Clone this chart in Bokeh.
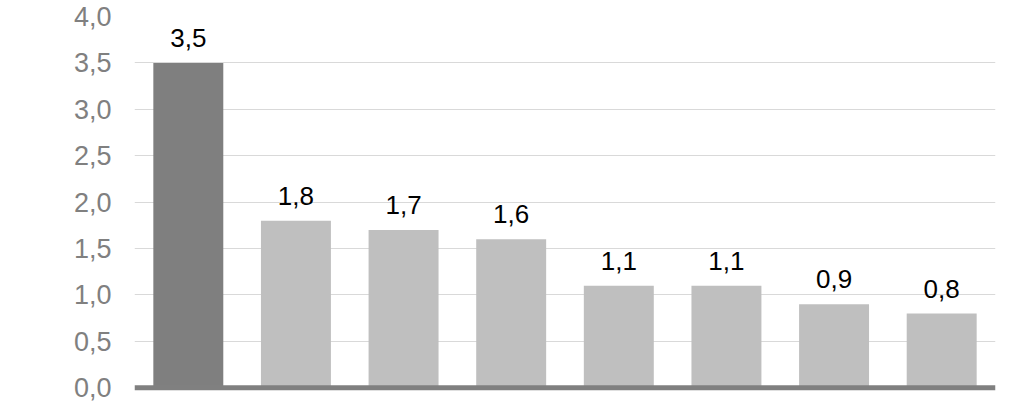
from bokeh.plotting import figure
from bokeh.models import ColumnDataSource, FixedTicker, Span, Range1d, FactorRange
from bokeh.core.properties import value
from bokeh.embed import file_html
from bokeh.resources import INLINE

categories = ["c1", "c2", "c3", "c4", "c5", "c6", "c7", "c8"]
values = [3.5, 1.8, 1.7, 1.6, 1.1, 1.1, 0.9, 0.8]
value_labels = ["3,5", "1,8", "1,7", "1,6", "1,1", "1,1", "0,9", "0,8"]
bar_colors = ["#7f7f7f"] + ["#bfbfbf"] * 7
y_ticks = [0.0, 0.5, 1.0, 1.5, 2.0, 2.5, 3.0, 3.5, 4.0]
y_tick_labels = ["0,0", "0,5", "1,0", "1,5", "2,0", "2,5", "3,0", "3,5", "4,0"]

src = ColumnDataSource(dict(cat=categories, val=values, lab=value_labels, col=bar_colors))

p = figure(width=1005, height=405, output_backend="svg", toolbar_location=None,
           x_range=FactorRange(factors=categories, range_padding=0),
           y_range=Range1d(-0.04, 4.0),
           min_border_left=134, min_border_right=10, min_border_top=16, min_border_bottom=14)
p.outline_line_color = None
p.background_fill_color = "white"
p.border_fill_color = "white"

p.vbar(x="cat", top="val", bottom=0, width=0.65, color="col", line_color=None, source=src)
p.text(x="cat", y="val", text="lab", source=src, text_align="center", text_baseline="alphabetic",
       y_offset=-25, text_font=value("Liberation Sans"), text_font_size="26px", text_color="#000000")

p.add_layout(Span(location=0, dimension="width", line_color="#808080", line_width=5))

p.xaxis.visible = False
p.xgrid.visible = False
p.ygrid.ticker = FixedTicker(ticks=y_ticks[1:])
p.ygrid.grid_line_color = "#d9d9d9"
p.ygrid.grid_line_width = 1

ax = p.yaxis[0]
ax.ticker = FixedTicker(ticks=y_ticks)
ax.major_label_overrides = {t: l for t, l in zip(y_ticks, y_tick_labels)}
ax.axis_line_color = None
ax.major_tick_line_color = None
ax.minor_tick_line_color = None
ax.major_tick_in = 0
ax.major_tick_out = 0
ax.major_label_standoff = 23
ax.major_label_text_font = "Liberation Sans"
ax.major_label_text_font_size = "27px"
ax.major_label_text_color = "#808080"

open("out.html", "w").write(file_html(p, INLINE))
